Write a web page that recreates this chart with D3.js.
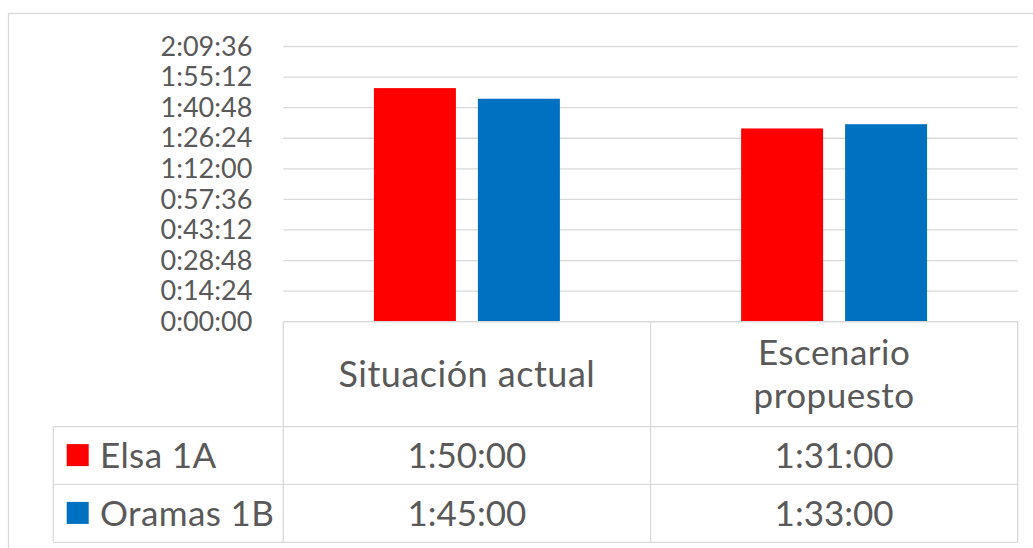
<!DOCTYPE html>
<html>
<head>
<meta charset="utf-8">
<script src="https://cdn.jsdelivr.net/npm/d3@7"></script>
<style>
  html, body { margin: 0; padding: 0; background: #fff; }
  svg { display: block; }
  text { font-family: Lato, "Open Sans", sans-serif; fill: #595959; }
</style>
</head>
<body>
<svg id="chart" width="1033" height="548"></svg>
<script>
// ---- data ----
const categories = ["Situación actual", "Escenario propuesto"];
const categoryLines = [["Situación actual"], ["Escenario", "propuesto"]];
const seriesNames = ["Elsa 1A", "Oramas 1B"];
const elsaValues = ["1:50:00", "1:31:00"];
const oramasValues = ["1:45:00", "1:33:00"];
const tickLabels = ["0:00:00", "0:14:24", "0:28:48", "0:43:12", "0:57:36", "1:12:00", "1:26:24", "1:40:48", "1:55:12", "2:09:36"];
const seriesColors = ["#ff0000", "#0070c0"];

const toSec = s => { const [h, m, ss] = s.split(":").map(Number); return h * 3600 + m * 60 + ss; };
const fmt = v => { const h = Math.floor(v / 3600), m = Math.floor((v % 3600) / 60), s = Math.round(v % 60);
  return h + ":" + String(m).padStart(2, "0") + ":" + String(s).padStart(2, "0"); };

const seriesValues = [elsaValues, oramasValues];
const tickVals = tickLabels.map(toSec);

// ---- layout ----
const svg = d3.select("#chart");
const plotL = 283.3, plotR = 1017.7, plotT = 46.5, plotB = 321.7;
const legendL = 53.3, row1 = 426.7, row2 = 484.3, row3 = 542.3;
const gridColor = "#d9d9d9";

// outer chart border
svg.append("rect").attr("x", 8.5).attr("y", 13.5).attr("width", 1040).attr("height", 560)
  .attr("fill", "none").attr("stroke", gridColor).attr("stroke-width", 1.3);

const y = d3.scaleLinear().domain([0, d3.max(tickVals)]).range([plotB, plotT]);
const x0 = d3.scaleBand().domain(categories).range([plotL, plotR]).paddingInner(0).paddingOuter(0);
const x1 = d3.scaleBand().domain(seriesNames).range([0, x0.bandwidth()]).paddingInner(0.2115).paddingOuter(0.8716);

// gridlines + y labels via axis
const yAxis = d3.axisLeft(y).tickValues(tickVals).tickFormat(fmt).tickSize(0).tickPadding(31);
const ya = svg.append("g").attr("transform", `translate(${plotL},0)`).call(yAxis);
ya.select(".domain").remove();
ya.selectAll("text").style("font-size", "27px").attr("fill", "#595959").style("font-family", "Lato, sans-serif");

svg.append("g").selectAll("line").data(tickVals).join("line")
  .attr("x1", plotL).attr("x2", plotR)
  .attr("y1", d => y(d)).attr("y2", d => y(d))
  .attr("stroke", gridColor).attr("stroke-width", 1.3);

// bars
const groups = svg.append("g").selectAll("g").data(categories).join("g")
  .attr("transform", d => `translate(${x0(d)},0)`);
groups.selectAll("rect").data((c, ci) => seriesNames.map((s, si) => ({ s, si, v: toSec(seriesValues[si][ci]) })))
  .join("rect")
  .attr("x", d => x1(d.s)).attr("width", x1.bandwidth())
  .attr("y", d => y(d.v)).attr("height", d => plotB - y(d.v))
  .attr("fill", d => seriesColors[d.si]);

// data table lines
const tbl = svg.append("g").attr("stroke", gridColor).attr("stroke-width", 1.3);
[plotL, x0(categories[1]), plotR].forEach(xv =>
  tbl.append("line").attr("x1", xv).attr("x2", xv).attr("y1", plotB).attr("y2", row3));
tbl.append("line").attr("x1", plotL).attr("x2", plotR).attr("y1", plotB).attr("y2", plotB);
[row1, row2, row3].forEach(yv =>
  tbl.append("line").attr("x1", legendL).attr("x2", plotR).attr("y1", yv).attr("y2", yv));
tbl.append("line").attr("x1", legendL).attr("x2", legendL).attr("y1", row1).attr("y2", row3);

// category headers (multi-line labels as one text with tspans)
categories.forEach((c, ci) => {
  const cx = x0(c) + x0.bandwidth() / 2;
  const lines = categoryLines[ci];
  const fs = lines.length > 1 ? 35 : 36;
  const lh = 43;
  const base = (plotB + row1) / 2 + 12.5 - (lines.length - 1) * lh / 2;
  const t = svg.append("text").attr("x", cx).attr("y", base)
    .attr("text-anchor", "middle").style("font-size", fs + "px").style("letter-spacing", "0.5px");
  lines.forEach((ln, li) => {
    t.append("tspan").attr("x", cx).attr("dy", li === 0 ? 0 : lh).text(ln);
  });
});

// values rows + legend
const rowTops = [row1, row2];
seriesNames.forEach((s, si) => {
  const base = (rowTops[si] + (si === 0 ? row2 : row3)) / 2 + 12.6;
  svg.append("rect").attr("x", 66.7).attr("y", base - 24).attr("width", 22).attr("height", 22)
    .attr("fill", seriesColors[si]);
  svg.append("text").attr("x", 100).attr("y", base).style("font-size", "35px").style("letter-spacing", "0.4px").text(s);
  categories.forEach((c, ci) => {
    svg.append("text").attr("x", x0(c) + x0.bandwidth() / 2).attr("y", base)
      .attr("text-anchor", "middle").style("font-size", "35px").text(seriesValues[si][ci]);
  });
});
</script>
</body>
</html>
